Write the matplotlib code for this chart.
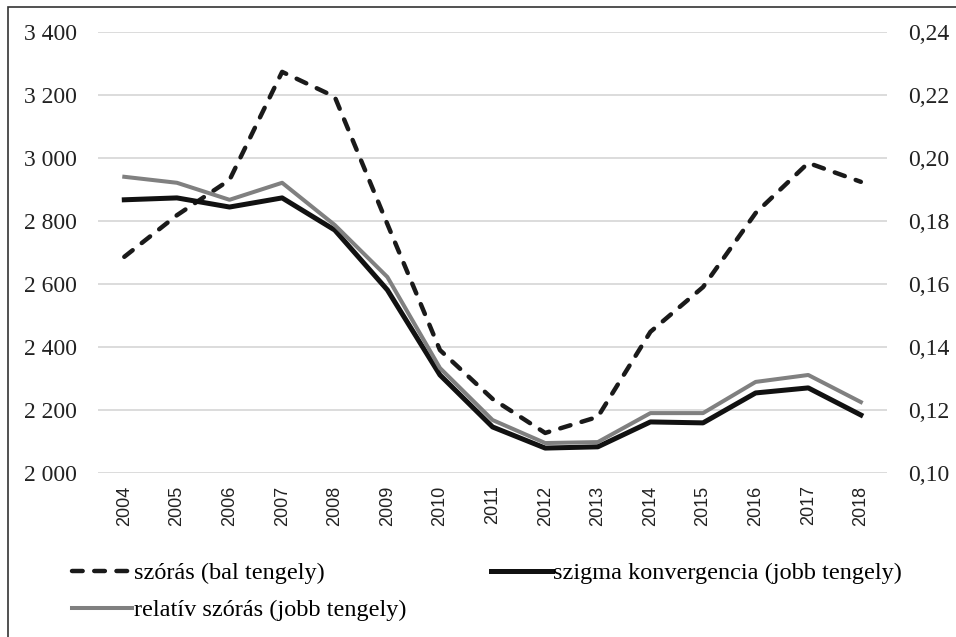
import matplotlib.pyplot as plt
from matplotlib.patches import Rectangle
from matplotlib.ticker import FuncFormatter

plt.rcParams['font.family'] = ['Liberation Serif', 'DejaVu Serif']

years = list(range(2004, 2019))
# szórás (left axis)
szoras = [2686, 2818, 2930, 3273, 3194, 2790, 2390, 2235, 2127, 2178,
          2448, 2590, 2825, 2984, 2924]
# szigma konvergencia (right axis)
szigma = [0.1867, 0.1873, 0.1844, 0.1873, 0.1771, 0.1581, 0.1311, 0.1146,
          0.1079, 0.1083, 0.1162, 0.1159, 0.1254, 0.1270, 0.1184]
# relatív szórás (right axis)
relativ = [0.1940, 0.1921, 0.1867, 0.1921, 0.1787, 0.1622, 0.1333, 0.1168,
           0.1095, 0.1098, 0.1190, 0.1190, 0.1289, 0.1311, 0.1225]

left_ticks = list(range(2000, 3401, 200))
right_ticks = [0.10, 0.12, 0.14, 0.16, 0.18, 0.20, 0.22, 0.24]

fig = plt.figure(figsize=(9.56, 6.37), dpi=100)
ax = fig.add_axes([0.1025, 0.2575, 0.8255, 0.6925])
ax2 = ax.twinx()

ax.set_ylim(2000, 3400)
ax.set_yticks(left_ticks)
ax.yaxis.set_major_formatter(FuncFormatter(lambda v, p: f"{int(v):,}".replace(",", " ")))
ax2.set_ylim(0.10, 0.24)
ax2.set_yticks(right_ticks)
ax2.yaxis.set_major_formatter(FuncFormatter(lambda v, p: f"{v:.2f}".replace(".", ",")))
ax.set_xlim(2003.5, 2018.5)
ax.set_xticks(years)
ax.set_xticklabels([str(y) for y in years], rotation=90,
                   family=['Liberation Sans', 'DejaVu Sans'], fontsize=13)

ax.grid(axis='y', color='#d6d6d6', linewidth=1.2)
ax.set_axisbelow(True)
for a in (ax, ax2):
    for s in a.spines.values():
        s.set_visible(False)
    a.tick_params(length=0, colors='#222222')
ax.tick_params(axis='y', pad=15, labelsize=17)
ax2.tick_params(axis='y', pad=15, labelsize=17)
ax.tick_params(axis='x', pad=9)

l1, = ax.plot(years, szoras, color='#1a1a1a', lw=3.2, dashes=(2.4, 2.6),
              dash_capstyle='round', label='szórás (bal tengely)')
l2, = ax2.plot(years, szigma, color='#111111', lw=3.6,
               label='szigma konvergencia (jobb tengely)')
l3, = ax2.plot(years, relativ, color='#808080', lw=2.9,
               label='relatív szórás (jobb tengely)')

fig.legend(handles=[l1, l3, l2], loc='upper left', bbox_to_anchor=(0.075, 0.117),
           ncol=2, frameon=False, fontsize=17.5, handlelength=2.5,
           handletextpad=0.05, columnspacing=3.5, labelspacing=0.6,
           borderaxespad=0, borderpad=0)

fig.add_artist(Rectangle((0.008, -0.01), 1.0, 0.999, transform=fig.transFigure,
                         fill=False, edgecolor='#333333', linewidth=1.2))

fig.savefig('out.png', dpi=100)
